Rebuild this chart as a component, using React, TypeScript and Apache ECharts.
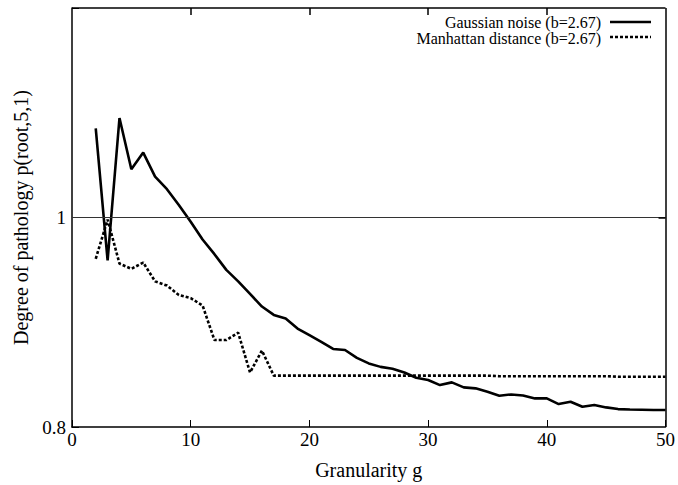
import React, { useEffect, useRef } from "react";
import * as echarts from "echarts";

const granularity: number[] = [];
for (let g = 2; g <= 50; g++) granularity.push(g);

const gaussianNoise = [
  1.085, 0.959, 1.095, 1.046, 1.062, 1.039, 1.027, 1.012, 0.996, 0.979,
  0.965, 0.95, 0.939, 0.927, 0.915, 0.907, 0.9035, 0.894, 0.8876, 0.8812,
  0.8745, 0.8735, 0.866, 0.8607, 0.8574, 0.8556, 0.852, 0.847, 0.8448, 0.84,
  0.8426, 0.8378, 0.8369, 0.8336, 0.8298, 0.8311, 0.83, 0.8273, 0.8273, 0.8219,
  0.8241, 0.8193, 0.821, 0.8187, 0.8171, 0.8167, 0.8165, 0.8163, 0.8162,
];

const manhattanDistance = [
  0.9606, 0.998, 0.956, 0.951, 0.957, 0.939, 0.935, 0.926, 0.923, 0.916,
  0.883, 0.883, 0.89, 0.852, 0.873, 0.849, 0.849, 0.849, 0.849, 0.849,
  0.849, 0.849, 0.849, 0.849, 0.849, 0.849, 0.849, 0.849, 0.849, 0.849,
  0.849, 0.849, 0.849, 0.849, 0.8485, 0.8485, 0.8485, 0.8485, 0.8485, 0.8485,
  0.8485, 0.8485, 0.8485, 0.8485, 0.848, 0.848, 0.848, 0.848, 0.848,
];

const xTicks = [0, 10, 20, 30, 40, 50];
const yTicks = [0.8, 1];
const yTickLabels: Record<string, string> = { "0.8": "0.8", "1": "1" };
const X_MIN = 0;
const X_MAX = 50;
const Y_MIN = 0.8;
const Y_MAX = 1.2;

const seriesNames = ["Gaussian noise (b=2.67)", "Manhattan distance (b=2.67)"];

const FONT = "Liberation Serif, Times New Roman, serif";

const GRID = { left: 72, right: 10, top: 8, bottom: 58 };

export default function App() {
  const ref = useRef<HTMLDivElement>(null);
  useEffect(() => {
    if (!ref.current) return;
    const chart = echarts.init(ref.current, undefined, { renderer: "svg" });
    const pairs = (vals: number[]) => granularity.map((g, i) => [g, vals[i]]);
    const tickStyle = { show: true, inside: true, length: 7, lineStyle: { color: "#000", width: 1 } };
    const lineAxis = { show: true, onZero: false, lineStyle: { color: "#000", width: 1.5 } };
    // tick length in data units (7px), derived from grid size
    const plotH = 485 - GRID.top - GRID.bottom;
    const plotW = 678 - GRID.left - GRID.right;
    const tyLen = ((Y_MAX - Y_MIN) * 7) / plotH;
    const txLen = ((X_MAX - X_MIN) * 7) / plotW;
    const frameLines: any[] = [
      [{ coord: [X_MIN, Y_MAX] }, { coord: [X_MAX, Y_MAX] }],
      [{ coord: [X_MAX, Y_MIN] }, { coord: [X_MAX, Y_MAX] }],
      ...xTicks
        .filter((v) => v > X_MIN && v < X_MAX)
        .map((v) => [{ coord: [v, Y_MAX] }, { coord: [v, Y_MAX - tyLen] }]),
      ...yTicks
        .filter((v) => v > Y_MIN && v < Y_MAX)
        .map((v) => [{ coord: [X_MAX, v] }, { coord: [X_MAX - txLen, v] }]),
    ];
    chart.setOption({
      animation: false,
      backgroundColor: "#fff",
      textStyle: { fontFamily: FONT, color: "#000" },
      grid: GRID,
      graphic: [
        {
          type: "text",
          right: 77,
          top: 14,
          style: { text: seriesNames[0], fontFamily: FONT, fontSize: 16, lineHeight: 15, fill: "#000", textAlign: "right" },
        },
        {
          type: "text",
          right: 77,
          top: 30,
          style: { text: seriesNames[1], fontFamily: FONT, fontSize: 16, lineHeight: 15, fill: "#000", textAlign: "right" },
        },
        {
          type: "line",
          shape: { x1: 610, y1: 22, x2: 651, y2: 22 },
          style: { stroke: "#000", lineWidth: 2.6 },
        },
        {
          type: "line",
          shape: { x1: 610, y1: 37, x2: 651, y2: 37 },
          style: { stroke: "#000", lineWidth: 2.6, lineDash: [3, 2] },
        },
      ],
      xAxis: {
        type: "value",
        min: X_MIN,
        max: X_MAX,
        interval: 10,
        name: "Granularity g",
        nameLocation: "middle",
        nameGap: 33,
        nameTextStyle: { fontFamily: FONT, fontSize: 20, color: "#000" },
        axisLine: lineAxis,
        axisTick: tickStyle,
        axisLabel: {
          fontFamily: FONT,
          fontSize: 19,
          color: "#000",
          margin: 3,
          formatter: (v: number) => (xTicks.includes(v) ? String(v) : ""),
        },
        splitLine: { show: false },
      },
      yAxis: {
        type: "value",
        min: Y_MIN,
        max: Y_MAX,
        interval: 0.2,
        name: "Degree of pathology p(root,5,1)",
        nameLocation: "middle",
        nameGap: 39,
        nameTextStyle: { fontFamily: FONT, fontSize: 20, color: "#000" },
        axisLine: lineAxis,
        axisTick: tickStyle,
        axisLabel: {
          fontFamily: FONT,
          fontSize: 19,
          color: "#000",
          margin: 6,
          formatter: (v: number) => {
            const k = String(Math.round(v * 10) / 10);
            return yTickLabels[k] ?? "";
          },
        },
        splitLine: { show: false },
      },
      series: [
        {
          name: seriesNames[0],
          type: "line",
          data: pairs(gaussianNoise),
          symbol: "none",
          lineStyle: { color: "#000", width: 2.6, type: "solid" },
          itemStyle: { color: "#000" },
          markLine: {
            silent: true,
            symbol: "none",
            label: { show: false },
            lineStyle: { color: "#333", width: 1, type: "solid" },
            data: [{ yAxis: 1 }],
          },
        },
        {
          name: seriesNames[1],
          type: "line",
          data: pairs(manhattanDistance),
          symbol: "none",
          lineStyle: { color: "#000", width: 2.6, type: [3, 2] },
          itemStyle: { color: "#000" },
          markLine: {
            silent: true,
            symbol: "none",
            label: { show: false },
            lineStyle: { color: "#000", width: 1.5, type: "solid" },
            data: frameLines,
          },
        },
      ],
    });
    return () => chart.dispose();
  }, []);
  return <div ref={ref} style={{ width: 678, height: 485, position: "absolute", left: 0, top: 0 }} />;
}
